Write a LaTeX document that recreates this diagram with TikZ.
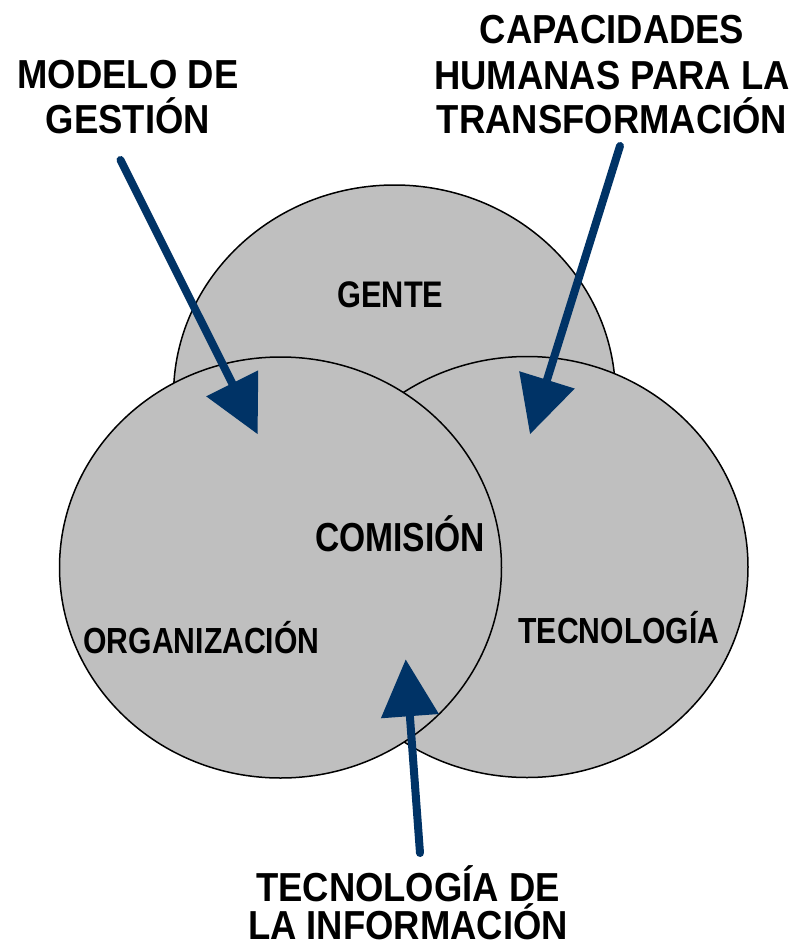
\documentclass[tikz,border=0pt]{standalone}
\usepackage{fontspec}
\usetikzlibrary{arrows.meta,shapes.geometric}
\newfontfamily\outerfont{Liberation Sans Bold}[FakeStretch=0.9]
\newfontfamily\innerfont{Liberation Sans Bold}[FakeStretch=0.83]
\definecolor{navy}{RGB}{0,51,102}
\definecolor{disc}{RGB}{191,191,191}
\begin{document}
\begin{tikzpicture}[x=1pt,y=-1pt,
  setdisc/.style={ellipse, draw=black, line width=1.5pt, fill=disc,
    minimum width=442pt, minimum height=421pt, inner sep=0pt},
  outerlabel/.style={font=\outerfont\fontsize{40.5}{45}\selectfont, anchor=base, inner sep=0pt},
  innerlabel/.style={font=\innerfont\fontsize{37}{40}\selectfont, anchor=base, inner sep=0pt},
  pointer/.style={draw=navy, line width=8pt, line cap=round,
    -{Triangle[length=57pt,width=56pt]}}]
\useasboundingbox (0,0) rectangle (796,948);
% discs
\node[setdisc] (gente) at (394.5,395.5) {};
\node[setdisc] (tecno) at (527,567) {};
\node[setdisc] (organ) at (280.5,567.5) {};
% inner labels
\node[innerlabel] (lgente) at (390.5,307) {GENTE};
\node[innerlabel, font=\innerfont\fontsize{40.5}{44}\selectfont] (lcomision) at (400,551) {COMISIÓN};
\node[innerlabel, font=\innerfont\fontsize{36.3}{40}\selectfont] (lorg) at (201.5,653) {ORGANIZACIÓN};
\node[innerlabel, font=\innerfont\fontsize{36.3}{40}\selectfont] (ltec) at (619,643) {TECNOLOGÍA};
% outer labels
\node[outerlabel] (m1) at (128,88) {MODELO DE};
\node[outerlabel] (m2) at (128,133) {GESTIÓN};
\node[outerlabel] (c1) at (612,43) {CAPACIDADES};
\node[outerlabel] (c2) at (612,89) {HUMANAS PARA LA};
\node[outerlabel] (c3) at (612,133) {TRANSFORMACIÓN};
\node[outerlabel] (t1l) at (408,901) {TECNOLOGÍA DE};
\node[outerlabel] (t2l) at (408,939) {LA INFORMACIÓN};
% arrows
\coordinate (s1) at (120.5,160);
\coordinate (e1) at (257.7,434.3);
\coordinate (s2) at (620,146);
\coordinate (e2) at (530,434.3);
\coordinate (s3) at (420,853);
\coordinate (e3) at (405.7,659.3);
\draw[pointer] (s1) -- (e1);
\draw[pointer] (s2) -- (e2);
\draw[pointer] (s3) -- (e3);
\end{tikzpicture}
\end{document}
